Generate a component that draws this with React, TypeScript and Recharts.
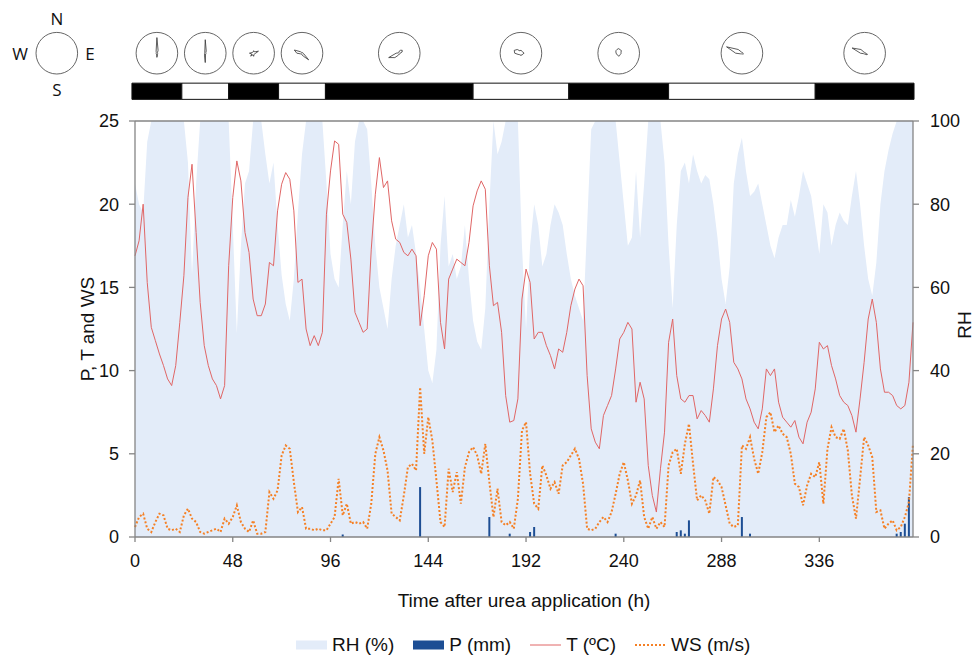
import {
  Area,
  Bar,
  ComposedChart,
  Legend,
  Line,
  ReferenceArea,
  ReferenceDot,
  ReferenceLine,
  XAxis,
  YAxis,
} from "recharts";

// hourly record sampled every 2 h, hour 0 .. 382
const temperature = [
  16.9, 17.8, 20.0, 15.3, 12.6, 11.8, 11.0, 10.3,
  9.5, 9.1, 10.3, 12.9, 15.7, 20.4, 22.4, 18.3,
  14.1, 11.5, 10.3, 9.5, 9.1, 8.3, 9.1, 16.3,
  20.4, 22.6, 21.4, 18.3, 17.1, 14.3, 13.3, 13.3,
  14.0, 16.5, 16.3, 19.6, 21.2, 21.9, 21.5, 19.6,
  15.3, 15.5, 12.5, 11.5, 12.1, 11.5, 12.3, 19.4,
  22.0, 23.8, 23.6, 19.4, 18.9, 16.7, 13.5, 12.9,
  12.3, 12.5, 17.3, 20.6, 22.8, 21.0, 21.4, 19.0,
  17.9, 17.7, 17.1, 16.9, 17.3, 16.9, 12.7, 14.5,
  16.9, 17.7, 17.3, 12.9, 11.3, 15.5, 16.1, 16.7,
  16.5, 16.3, 17.7, 19.9, 20.8, 21.4, 20.9, 16.3,
  13.9, 14.1, 12.3, 8.5, 6.9, 7.0, 8.3, 14.3,
  16.1, 15.3, 11.9, 12.3, 12.3, 11.5, 10.9, 10.1,
  11.3, 11.1, 12.3, 13.9, 14.9, 15.5, 15.1, 9.7,
  6.5, 5.7, 5.3, 7.3, 7.9, 8.5, 10.1, 11.9,
  12.3, 12.9, 12.5, 8.1, 9.3, 8.3, 4.3, 2.5,
  1.5, 4.1, 6.3, 11.7, 13.1, 9.7, 8.3, 8.1,
  8.5, 8.5, 7.1, 7.6, 7.3, 6.9, 8.9, 11.5,
  13.1, 13.7, 12.9, 10.5, 10.1, 9.5, 8.3, 7.7,
  6.9, 6.5, 7.7, 10.1, 9.7, 10.1, 8.1, 7.2,
  6.9, 6.6, 7.0, 6.0, 5.6, 6.9, 7.5, 8.9,
  11.7, 11.3, 11.5, 10.3, 9.5, 8.5, 8.1, 7.9,
  7.3, 6.3, 8.3, 10.5, 13.1, 14.3, 12.9, 10.1,
  8.7, 8.7, 8.5, 7.9, 7.7, 7.9, 9.3, 12.9,
];

const humidity = [
  85, 80, 78, 95, 100, 100, 100, 100,
  100, 100, 100, 100, 100, 90, 63, 85,
  100, 100, 100, 100, 100, 100, 100, 100,
  75, 49, 70, 85, 88, 100, 100, 100,
  92, 85, 90, 75, 63, 56, 52, 62,
  78, 92, 100, 100, 100, 100, 100, 85,
  68, 62, 60, 75, 88, 80, 95, 100,
  100, 98, 85, 70, 60, 55, 50, 62,
  70, 75, 80, 72, 75, 68, 60, 50,
  40, 37, 45, 70, 82, 65, 68, 62,
  65, 75, 62, 52, 47, 45, 55, 80,
  100, 92, 95, 100, 100, 100, 100, 70,
  50, 70, 80, 75, 65, 68, 75, 80,
  78, 75, 68, 62, 58, 55, 52, 75,
  98, 100, 100, 100, 100, 100, 100, 90,
  80, 70, 72, 88, 72, 85, 100, 100,
  100, 100, 90, 70, 55, 75, 88, 90,
  85, 92, 88, 85, 87, 86, 80, 72,
  62, 56, 65, 85, 92, 96, 88, 82,
  83, 85, 80, 75, 70, 67, 72, 75,
  75, 81, 77, 82, 88, 85, 82, 75,
  68, 80, 78, 70, 75, 78, 76, 75,
  82, 88, 80, 70, 62, 58, 66, 80,
  88, 93, 97, 100, 100, 100, 100, 100,
];

const windSpeed = [
  0.6, 1.2, 1.4, 0.5, 0.3, 0.9, 1.4, 1.3,
  0.5, 0.4, 0.5, 0.3, 1.3, 1.7, 1.1, 0.9,
  0.3, 0.2, 0.3, 0.4, 0.5, 0.3, 1.1, 0.8,
  1.2, 1.9, 0.9, 0.5, 0.3, 1.0, 0.2, 0.2,
  0.3, 2.7, 2.3, 2.8, 4.9, 5.5, 5.3, 3.3,
  1.5, 1.8, 0.5, 0.5, 0.4, 0.5, 0.4, 0.4,
  0.8, 1.2, 3.5, 1.3, 2.0, 0.8, 0.9, 0.8,
  0.9, 0.5, 2.0, 5.0, 6.0, 5.2, 4.0, 1.4,
  1.2, 1.0, 2.5, 4.2, 4.4, 4.0, 9.0, 5.0,
  7.2, 5.8, 3.4, 0.9, 0.6, 4.1, 2.7, 3.9,
  2.0, 4.2, 5.1, 5.4, 4.9, 3.8, 5.6, 3.3,
  1.2, 2.9, 0.9, 0.7, 0.9, 0.5, 2.3, 6.4,
  6.9, 3.8, 2.0, 1.7, 4.3, 3.7, 2.9, 3.3,
  2.6, 4.3, 4.5, 4.9, 5.3, 4.7, 3.2, 0.5,
  0.4, 0.5, 0.9, 1.2, 0.9, 1.5, 2.6, 3.8,
  4.5, 3.4, 2.0, 2.5, 3.4, 1.2, 0.5, 1.2,
  0.5, 0.9, 0.6, 4.3, 5.1, 5.3, 3.8, 5.6,
  6.8, 4.4, 2.2, 2.5, 2.2, 1.4, 3.6, 3.4,
  3.0, 1.9, 0.8, 0.6, 0.7, 5.5, 5.3, 6.0,
  4.7, 3.8, 5.1, 7.2, 7.5, 6.3, 6.7, 6.2,
  6.0, 5.0, 3.2, 3.0, 1.9, 3.1, 3.8, 3.6,
  4.5, 2.0, 5.3, 6.6, 6.0, 5.9, 6.5, 5.2,
  2.5, 1.1, 3.5, 6.0, 5.5, 4.8, 1.5, 1.6,
  0.5, 0.8, 1.0, 0.4, 0.6, 1.2, 2.1, 5.6,
];

const rainHours = [102, 140, 174, 184, 194, 196, 236, 266, 268, 270, 272, 298, 302, 374, 376, 378, 380];
const rainMm = [0.15, 3.0, 1.2, 0.2, 0.3, 0.6, 0.2, 0.3, 0.4, 0.2, 1.0, 1.2, 0.2, 0.2, 0.3, 0.8, 2.4];

const xTicks = [0, 48, 96, 144, 192, 240, 288, 336];
const leftTicks = [0, 5, 10, 15, 20, 25];
const rhTicks = [0, 20, 40, 60, 80, 100];

// sampling periods (h) shown as the black / white strip, one wind rose per period
const periodEdges = [-1.5, 23, 46, 70.5, 93.5, 166, 213, 262, 334, 382.5];

// wind direction frequency, 16 sectors from N clockwise (% of rose radius)
const windRoses = [
  [75, 15, 4, 4, 4, 4, 4, 8, 20, 4, 4, 4, 4, 4, 4, 10],
  [65, 12, 4, 4, 4, 4, 4, 4, 45, 10, 4, 4, 4, 4, 4, 6],
  [12, 8, 10, 25, 10, 6, 6, 6, 15, 8, 20, 10, 20, 8, 6, 6],
  [5, 4, 4, 4, 4, 10, 45, 15, 8, 4, 4, 8, 25, 40, 10, 4],
  [10, 15, 20, 15, 4, 4, 4, 4, 4, 10, 30, 55, 15, 4, 4, 4],
  [15, 10, 10, 12, 15, 10, 10, 8, 12, 8, 10, 15, 30, 35, 25, 12],
  [22, 18, 18, 12, 12, 10, 10, 12, 15, 10, 10, 12, 12, 15, 18, 20],
  [4, 4, 4, 4, 4, 8, 6, 4, 4, 4, 4, 8, 30, 80, 25, 6],
  [4, 4, 4, 4, 4, 15, 10, 4, 4, 4, 4, 6, 20, 65, 25, 4],
];

// heights on the RH scale used to lift the strip and roses above the plot
const stripLow = 105.2;
const stripHigh = 109.1;
const roseLevel = 116.3;

const hours = temperature.map((_, i) => i * 2);

const data = hours.map((hour, i) => {
  const r = rainHours.indexOf(hour);
  return {
    hour,
    T: temperature[i],
    WS: windSpeed[i],
    RH: humidity[i],
    P: r >= 0 ? rainMm[r] : null,
  };
});

const periods = periodEdges.slice(0, -1).map((from, i) => ({
  from,
  to: periodEdges[i + 1],
  dark: i % 2 === 0,
}));

const font = "'Liberation Sans', Arial, sans-serif";
const axisColor = "#858585";
const rhColor = "#e3ecf9";
const rainColor = "#1d4e94";
const tColor = "#e06666";
const wsColor = "#f58025";

const ROSE_R = 20.8;

function WindRose({ cx, cy, values }: { cx: number; cy: number; values?: number[] }) {
  const pts = values
    ? values
        .map((v, i) => {
          const a = (i * 22.5 * Math.PI) / 180;
          const r = (v / 100) * ROSE_R;
          return `${cx + r * Math.sin(a)},${cy - r * Math.cos(a)}`;
        })
        .join(" ")
    : "";
  return (
    <g>
      <circle cx={cx} cy={cy} r={ROSE_R} fill="#fff" stroke="#666" strokeWidth={1} />
      {values && <polygon points={pts} fill="none" stroke="#333" strokeWidth={0.8} />}
    </g>
  );
}

const legendItems = [
  { label: "RH (%)", kind: "area", color: rhColor },
  { label: "P (mm)", kind: "bar", color: rainColor },
  { label: "T (ºC)", kind: "line", color: tColor },
  { label: "WS (m/s)", kind: "dots", color: wsColor },
];

function LegendContent() {
  return (
    <div
      style={{
        display: "flex",
        alignItems: "center",
        paddingLeft: 296,
        fontFamily: font,
        fontSize: 19,
        color: "#111",
        height: 24,
      }}
    >
      {legendItems.map((item) => (
        <div key={item.label} style={{ display: "flex", alignItems: "center", marginRight: 19 }}>
          <svg width={31} height={10} style={{ marginRight: 5 }}>
            {item.kind === "area" && <rect x={0} y={0.5} width={31} height={9} fill={item.color} />}
            {item.kind === "bar" && <rect x={0} y={0.5} width={31} height={9} fill={item.color} />}
            {item.kind === "line" && <line x1={0} x2={31} y1={5} y2={5} stroke={item.color} strokeWidth={1} />}
            {item.kind === "dots" && (
              <line x1={0} x2={31} y1={5} y2={5} stroke={item.color} strokeWidth={2} strokeDasharray="2 2" />
            )}
          </svg>
          <span>{item.label}</span>
        </div>
      ))}
    </div>
  );
}

const titleStyle = { fontFamily: font, fontSize: 19, fill: "#111" };
const tickStyle = { fill: "#111", fontSize: 18, fontFamily: font };

export default function App() {
  return (
    <div style={{ position: "absolute", left: 0, top: 0, width: 975, height: 659, background: "#fff" }}>
      <svg width={120} height={110} style={{ position: "absolute", left: 0, top: 0 }}>
        <WindRose cx={56.8} cy={53.2} />
        <g style={{ fontFamily: "'Open Sans', sans-serif", fontSize: 17, fill: "#111" }}>
          <text x={57} y={18} textAnchor="middle" dominantBaseline="central">N</text>
          <text x={20} y={53} textAnchor="middle" dominantBaseline="central">W</text>
          <text x={90} y={53} textAnchor="middle" dominantBaseline="central">E</text>
          <text x={57} y={89} textAnchor="middle" dominantBaseline="central">S</text>
        </g>
      </svg>

      <ComposedChart
        width={975}
        height={659}
        data={data}
        margin={{ top: 121, right: 0, bottom: 52, left: 70 }}
        style={{ position: "absolute", left: 0, top: 0 }}
      >
        <XAxis
          dataKey="hour"
          type="number"
          domain={[0, 382]}
          ticks={xTicks}
          height={70}
          tickSize={5}
          tickMargin={12}
          stroke={axisColor}
          strokeWidth={1.3}
          tick={tickStyle}
          label={{
            content: (p: any) => {
              const vb = p.viewBox || { x: 135, y: 537, width: 778, height: 70 };
              return (
                <text x={vb.x + vb.width / 2} y={vb.y + 70} textAnchor="middle" style={titleStyle}>
                  Time after urea application (h)
                </text>
              );
            },
          }}
        />
        <YAxis
          yAxisId="left"
          domain={[0, 25]}
          ticks={leftTicks}
          width={65}
          tickSize={6}
          tickMargin={10}
          stroke={axisColor}
          strokeWidth={1.3}
          tick={tickStyle}
          label={{
            content: (p: any) => {
              const vb = p.viewBox || { x: 70, y: 121, width: 65, height: 416 };
              const x = vb.x + 17;
              const y = vb.y + vb.height / 2;
              return (
                <text
                  x={x}
                  y={y}
                  transform={`rotate(-90 ${x} ${y})`}
                  textAnchor="middle"
                  dominantBaseline="central"
                  style={titleStyle}
                >
                  P, T and WS
                </text>
              );
            },
          }}
        />
        <YAxis
          yAxisId="rh"
          orientation="right"
          domain={[0, 100]}
          ticks={rhTicks}
          width={62}
          tickSize={6}
          tickMargin={11}
          stroke={axisColor}
          strokeWidth={1.3}
          tick={tickStyle}
          label={{
            content: (p: any) => {
              const vb = p.viewBox || { x: 913, y: 121, width: 62, height: 416 };
              const x = vb.x + 51;
              const y = vb.y + vb.height / 2 - 4;
              return (
                <text
                  x={x}
                  y={y}
                  transform={`rotate(-90 ${x} ${y})`}
                  textAnchor="middle"
                  dominantBaseline="central"
                  style={titleStyle}
                >
                  RH
                </text>
              );
            },
          }}
        />

        <Area
          yAxisId="rh"
          type="linear"
          dataKey="RH"
          stroke="none"
          fill={rhColor}
          fillOpacity={1}
          isAnimationActive={false}
        />
        <Bar yAxisId="left" dataKey="P" fill={rainColor} barSize={2} isAnimationActive={false} />
        <Line
          yAxisId="left"
          type="linear"
          dataKey="T"
          stroke={tColor}
          strokeWidth={1}
          dot={false}
          activeDot={false}
          isAnimationActive={false}
        />
        <Line
          yAxisId="left"
          type="linear"
          dataKey="WS"
          stroke={wsColor}
          strokeWidth={2}
          strokeDasharray="2 2"
          dot={false}
          activeDot={false}
          isAnimationActive={false}
        />

        <ReferenceLine yAxisId="left" y={25} stroke={axisColor} strokeWidth={1.3} />

        {periods.map((p) => (
          <ReferenceArea
            key={p.from}
            yAxisId="rh"
            x1={p.from}
            x2={p.to}
            y1={stripLow}
            y2={stripHigh}
            fill={p.dark ? "#000" : "#fff"}
            fillOpacity={1}
            stroke="#111"
            strokeWidth={1}
            ifOverflow="visible"
          />
        ))}
        {periods.map((p, i) => (
          <ReferenceDot
            key={`rose-${p.from}`}
            yAxisId="rh"
            x={(p.from + p.to) / 2}
            y={roseLevel}
            r={ROSE_R}
            ifOverflow="visible"
            shape={(props: any) => <WindRose cx={props.cx} cy={props.cy} values={windRoses[i]} />}
          />
        ))}

        <Legend
          verticalAlign="middle"
          align="center"
          wrapperStyle={{ top: 633, left: 0, width: 975, height: 24 }}
          content={<LegendContent />}
        />
      </ComposedChart>
    </div>
  );
}
